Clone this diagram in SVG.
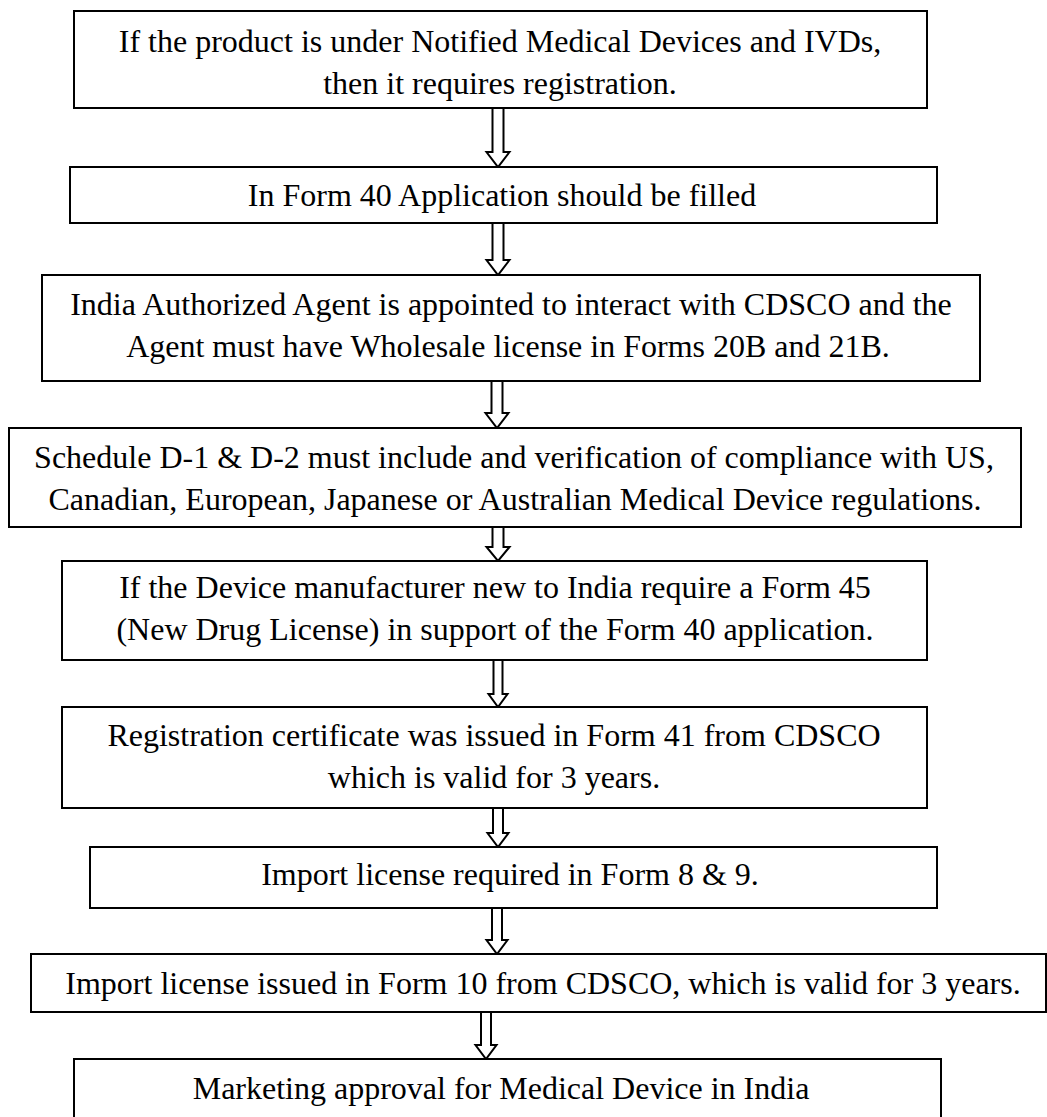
<svg xmlns="http://www.w3.org/2000/svg" width="1047" height="1117" viewBox="0 0 1047 1117">
  <style>
    .box { fill: #ffffff; stroke: #000000; stroke-width: 2; }
    .arrow { fill: #ffffff; stroke: #000000; stroke-width: 2; stroke-linejoin: miter; }
    .label { font-family: "Liberation Serif", "Times New Roman", serif; font-size: 32px; fill: #000000; text-anchor: middle; }
  </style>
  <rect width="1047" height="1117" fill="#ffffff"/>

  <g id="connectors">
    <path class="arrow" d="M492.5,108 V152 H486.5 L498,167 L509.5,152 H503.5 V108"/>
    <path class="arrow" d="M492.5,223 V260 H486.5 L498,275 L509.5,260 H503.5 V223"/>
    <path class="arrow" d="M491.5,381 V413 H485.5 L497,428 L508.5,413 H502.5 V381"/>
    <path class="arrow" d="M492.5,527 V547 H486.5 L498,561 L509.5,547 H503.5 V527"/>
    <path class="arrow" d="M493.5,660 V694 H488.5 L498,707 L507.5,694 H502.5 V660"/>
    <path class="arrow" d="M493,808 V833 H487.5 L498,847 L508.5,833 H503 V808"/>
    <path class="arrow" d="M492,908 V940 H486.5 L497,954 L507.5,940 H502 V908"/>
    <path class="arrow" d="M481,1012 V1045 H475.5 L486,1059 L496.5,1045 H491 V1012"/>
  </g>

  <g id="step1">
    <rect class="box" x="74" y="11" width="853" height="97"/>
    <text class="label" x="500" y="52">If the product is under Notified Medical Devices and IVDs,</text>
    <text class="label" x="500" y="94">then it requires registration.</text>
  </g>

  <g id="step2">
    <rect class="box" x="70" y="167" width="867" height="56"/>
    <text class="label" x="502" y="206">In Form 40 Application should be filled</text>
  </g>

  <g id="step3">
    <rect class="box" x="42" y="275" width="938" height="106"/>
    <text class="label" x="511" y="315">India Authorized Agent is appointed to interact with CDSCO and the</text>
    <text class="label" x="508" y="357">Agent must have Wholesale license in Forms 20B and 21B.</text>
  </g>

  <g id="step4">
    <rect class="box" x="9" y="428" width="1012" height="99"/>
    <text class="label" x="514" y="468">Schedule D-1 &amp; D-2 must include and verification of compliance with US,</text>
    <text class="label" x="515" y="510">Canadian, European, Japanese or Australian Medical Device regulations.</text>
  </g>

  <g id="step5">
    <rect class="box" x="62" y="561" width="865" height="99"/>
    <text class="label" x="495" y="598">If the Device manufacturer new to India require a Form 45</text>
    <text class="label" x="495" y="640">(New Drug License) in support of the Form 40 application.</text>
  </g>

  <g id="step6">
    <rect class="box" x="62" y="707" width="865" height="101"/>
    <text class="label" x="494" y="746">Registration certificate was issued in Form 41 from CDSCO</text>
    <text class="label" x="494" y="788">which is valid for 3 years.</text>
  </g>

  <g id="step7">
    <rect class="box" x="90" y="847" width="847" height="61"/>
    <text class="label" x="510" y="885">Import license required in Form 8 &amp; 9.</text>
  </g>

  <g id="step8">
    <rect class="box" x="31" y="954" width="1015" height="58"/>
    <text class="label" x="543" y="994">Import license issued in Form 10 from CDSCO, which is valid for 3 years.</text>
  </g>

  <g id="step9">
    <rect class="box" x="74" y="1059" width="867" height="80"/>
    <text class="label" x="501" y="1099">Marketing approval for Medical Device in India</text>
  </g>
</svg>
